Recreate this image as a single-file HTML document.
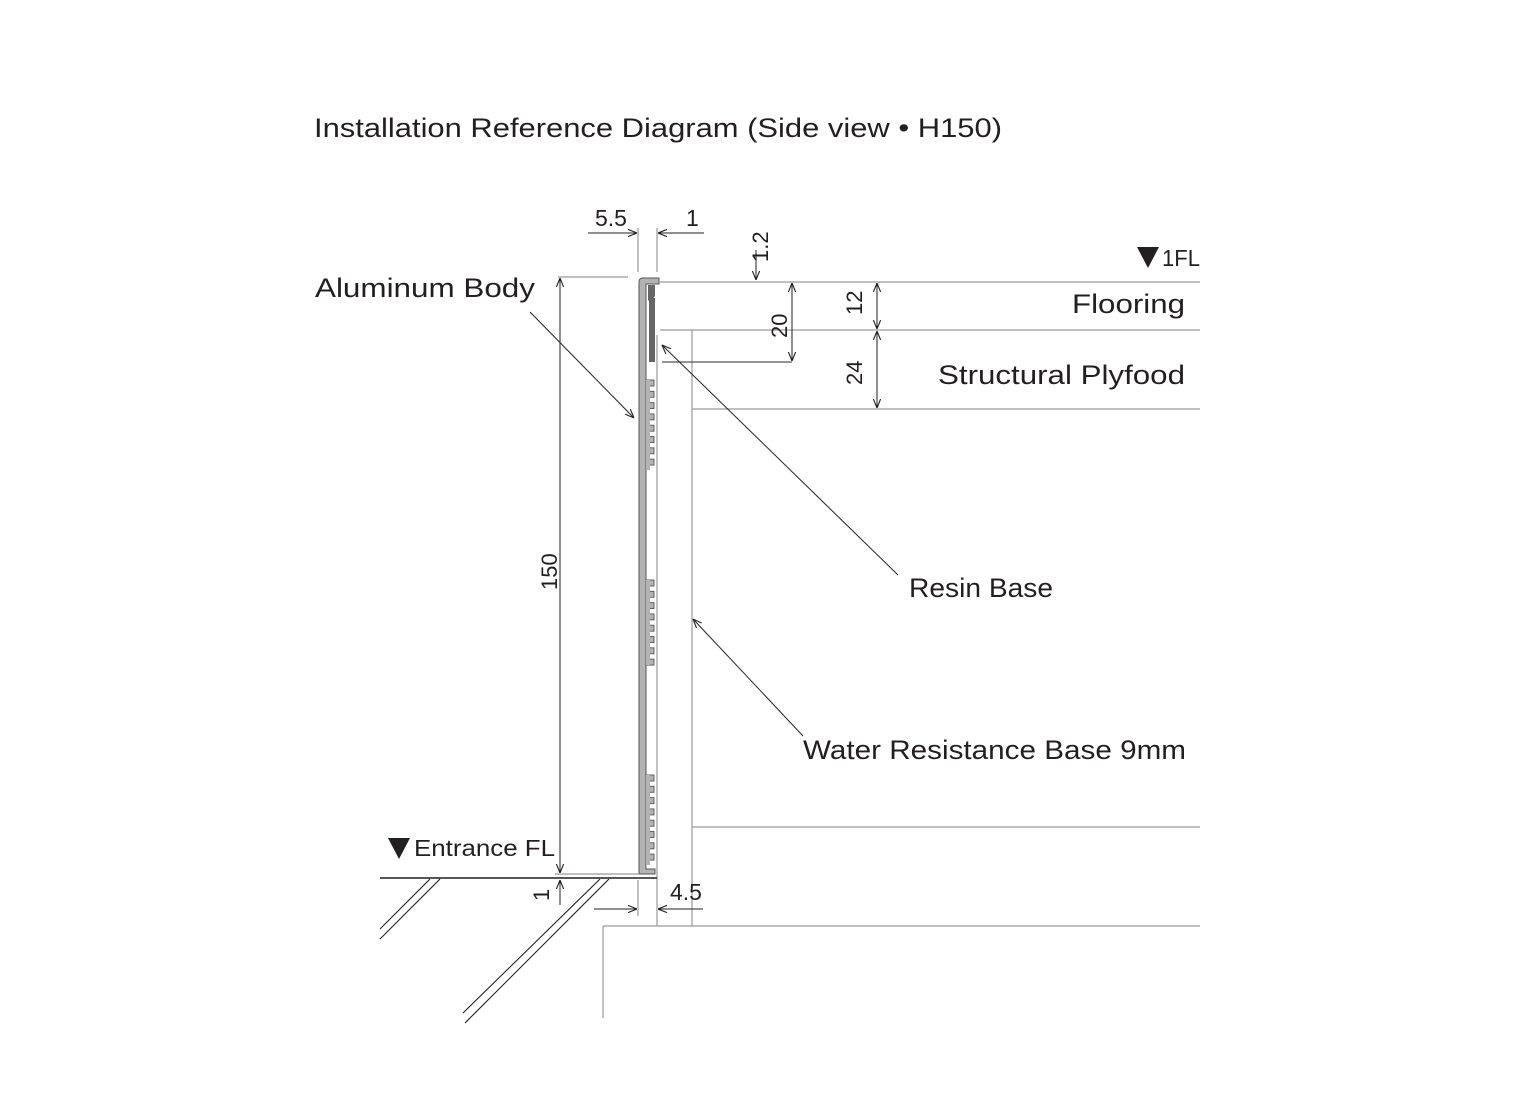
<!DOCTYPE html>
<html><head><meta charset="utf-8"><style>
html,body{margin:0;padding:0;background:#fff;}
svg{display:block;}
text{font-family:"Liberation Sans",sans-serif;fill:#231f20;}
</style></head><body>
<svg id="s" width="1532" height="1112" viewBox="0 0 1532 1112" xmlns="http://www.w3.org/2000/svg">
<defs>
<marker id="a" viewBox="0 0 10 10" refX="10" refY="5" markerWidth="9" markerHeight="9" orient="auto-start-reverse" markerUnits="userSpaceOnUse"><path d="M0,1 L10,5 L0,9" fill="none" stroke="#231f20" stroke-width="1.2"/></marker>
</defs>
<text x="314" y="137" font-size="27" textLength="688" lengthAdjust="spacingAndGlyphs">Installation Reference Diagram (Side view • H150)</text>

<g stroke="#9a9a9a" stroke-width="1.2" fill="none">
<line x1="660" y1="282" x2="1200" y2="282"/>
<line x1="660" y1="330" x2="1200" y2="330"/>
<line x1="692" y1="409" x2="1200" y2="409"/>
<line x1="692" y1="827" x2="1200" y2="827"/>
<line x1="603" y1="926" x2="1200" y2="926"/>
<line x1="603" y1="926" x2="603" y2="1018"/>
<line x1="692" y1="330" x2="692" y2="926"/>
<line x1="657" y1="335" x2="657" y2="926"/>
<line x1="662" y1="362" x2="792" y2="362" stroke="#555"/>
<line x1="558" y1="277" x2="628" y2="277"/>
<line x1="555" y1="874" x2="638" y2="874"/>
<line x1="638" y1="228" x2="638" y2="272"/>
<line x1="657" y1="228" x2="657" y2="272"/>
<line x1="638" y1="880" x2="638" y2="916"/>
</g>
<line x1="380" y1="878" x2="657" y2="878" stroke="#231f20" stroke-width="1.5"/>
<g stroke="#231f20" stroke-width="1.1">
<line x1="430" y1="879" x2="380" y2="929"/><line x1="440" y1="879" x2="380" y2="939"/>
<line x1="600" y1="879" x2="463" y2="1013"/><line x1="609" y1="879" x2="465" y2="1023"/>
</g>

<g id="body"></g>
<rect x="649" y="298" width="6" height="64" fill="#666"/>
<path d="M648,285 L655,285 L655,296 L650,302 L648,300 Z" fill="#666"/>

<g stroke="#231f20" stroke-width="1" fill="none">
<line x1="588" y1="233" x2="637" y2="233" marker-end="url(#a)"/>
<line x1="704" y1="233" x2="658" y2="233" marker-end="url(#a)"/>
<line x1="756" y1="250" x2="756" y2="280" marker-end="url(#a)"/>
<line x1="792" y1="283" x2="792" y2="361" marker-start="url(#a)" marker-end="url(#a)"/>
<line x1="877" y1="283" x2="877" y2="329" marker-start="url(#a)" marker-end="url(#a)"/>
<line x1="877" y1="331" x2="877" y2="408" marker-start="url(#a)" marker-end="url(#a)"/>
<line x1="560" y1="278" x2="560" y2="873" marker-start="url(#a)" marker-end="url(#a)"/>
<line x1="560" y1="905" x2="560" y2="880" marker-end="url(#a)"/>
<line x1="594" y1="909" x2="637" y2="909" marker-end="url(#a)"/>
<line x1="703" y1="909" x2="658" y2="909" marker-end="url(#a)"/>
<line x1="530" y1="312" x2="634" y2="418" marker-end="url(#a)"/>
<line x1="898" y1="575" x2="662" y2="345" marker-end="url(#a)"/>
<line x1="803" y1="736" x2="693" y2="619" marker-end="url(#a)"/>
</g>
<g font-size="23">
<text x="595" y="226">5.5</text>
<text x="686" y="226">1</text>
<text x="768" y="262" transform="rotate(-90 768 262)" font-size="22">1.2</text>
<text x="787" y="338" transform="rotate(-90 787 338)" font-size="22">20</text>
<text x="862" y="315" transform="rotate(-90 862 315)" font-size="22">12</text>
<text x="862" y="385" transform="rotate(-90 862 385)" font-size="22">24</text>
<text x="557" y="590" transform="rotate(-90 557 590)" font-size="22">150</text>
<text x="549" y="901" transform="rotate(-90 549 901)" font-size="22">1</text>
<text x="670" y="900">4.5</text>
<text x="1162" y="266" textLength="38" lengthAdjust="spacingAndGlyphs">1FL</text>
<text x="414" y="856" textLength="141" lengthAdjust="spacingAndGlyphs">Entrance FL</text>
</g>
<path d="M1137,247 L1159,247 L1148,268 Z" fill="#231f20"/>
<path d="M388,838 L410,838 L399,859 Z" fill="#231f20"/>
<g font-size="27">
<text x="315" y="297" textLength="220" lengthAdjust="spacingAndGlyphs">Aluminum Body</text>
<text x="1072" y="313" textLength="113" lengthAdjust="spacingAndGlyphs">Flooring</text>
<text x="938" y="384" textLength="247" lengthAdjust="spacingAndGlyphs">Structural Plyfood</text>
<text x="909" y="597" textLength="144" lengthAdjust="spacingAndGlyphs">Resin Base</text>
<text x="803" y="759" textLength="383" lengthAdjust="spacingAndGlyphs">Water Resistance Base 9mm</text>
</g>
</svg>
<script>
var g=document.getElementById('body'),ns='http://www.w3.org/2000/svg';
function el(t,a){var e=document.createElementNS(ns,t);for(var k in a)e.setAttribute(k,a[k]);g.appendChild(e);}
el('path',{d:'M639,282 Q639,278 643,278 L659,278 L659,284 L646,284 L646,869 L655,869 L655,874 L639,874 Z',fill:'#b3b3b3',stroke:'#555','stroke-width':'1'});
[[380,470],[580,665],[775,865]].forEach(function(r){
 for(var y=r[0];y<r[1];y+=11.3){el('rect',{x:646,y:y,width:8,height:6,fill:'#b3b3b3',stroke:'#555','stroke-width':'0.9'});}
 el('rect',{x:646,y:r[0],width:4,height:r[1]-r[0],fill:'#b3b3b3'});
});
</script>
</body></html>
